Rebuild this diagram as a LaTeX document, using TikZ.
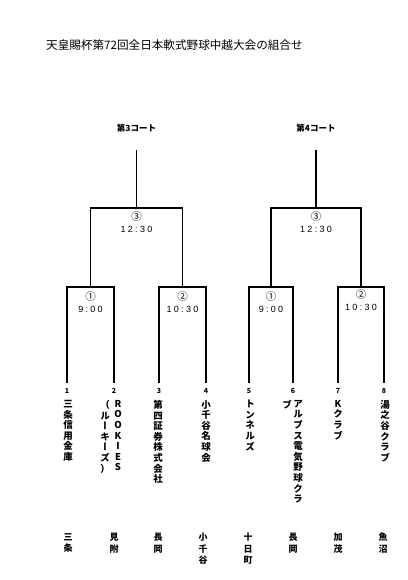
\documentclass[tikz,border=0pt]{standalone}
\usepackage{fontspec}
\setmainfont{Noto Sans CJK JP}
\newfontfamily\tate{Noto Sans CJK JP}[RawFeature=+vert]
\newfontfamily\yoko{Noto Sans CJK JP}
\newfontfamily\jikan{Liberation Sans}[LetterSpace=25]
\usetikzlibrary{calc}

\tikzset{
  line/.style={line width=1.3pt},
  court/.style={font=\bfseries\fontsize{8.5}{9}\selectfont, inner sep=0pt},
  time/.style={font=\fontsize{9}{12}\selectfont, align=center, inner sep=0pt},
  num/.style={font=\bfseries\fontsize{7}{8}\selectfont, inner sep=0pt},
  team/.style={font=\tate\bfseries\fontsize{9.5}{10.6}\selectfont, align=center, anchor=north, inner sep=0pt},
  place/.style={font=\bfseries\fontsize{9}{11.5}\selectfont, align=center, anchor=north, inner sep=0pt},
}
\newcommand{\kaishi}[2]{{\fontsize{10.5}{12}\selectfont #1}\\{\jikan #2}}

\begin{document}
\begin{tikzpicture}[x=1pt,y=-1pt]
\useasboundingbox (0,0) rectangle (407,580);
\node[anchor=west, inner sep=0pt, font=\fontsize{11.6}{13}\selectfont] (title) at (46,45) {天皇賜杯第72回全日本軟式野球中越大会の組合せ};

\coordinate (top) at (0,150);
\coordinate (lvl) at (0,208);

% first round
\foreach \i/\x in {1/67,2/114,3/159,4/206,5/249,6/293,7/338,8/384} {
  \coordinate (p\i) at (\x,383);
  \coordinate (q\i) at (\x,287);
  \node[num] (n\i) at ($(p\i)+(0,8)$) {\i};
}
\foreach \a/\b/\s in {1/2/1,3/4/2,5/6/3,7/8/4} {
  \draw[line] (p\a) -- (q\a) -- (q\b) -- (p\b);
  \coordinate (s\s) at ($(q\a)!0.5!(q\b)$);
}

% courts
\foreach \a/\b/\c in {1/2/3,3/4/4} {
  \coordinate (m\c) at ($(s\a)!0.5!(s\b)$);
  \draw[line] (s\a) -- (s\a |- lvl) -- (s\b |- lvl) -- (s\b);
  \draw[line] (m\c |- lvl) -- (m\c |- top);
  \node[court] (court\c) at ($(m\c |- top)+(0,-22)$) {第\c コート};
  \node[time] (final\c) at ($(m\c |- lvl)+(0,14)$) {\kaishi{③}{12:30}};
}

\node[time] (g1) at ($(s1)+(0,15)$) {\kaishi{①}{9:00}};
\node[time] (g2) at ($(s2)+(0,15)$) {\kaishi{②}{10:30}};
\node[time] (g3) at ($(s3)+(0,15)$) {\kaishi{①}{9:00}};
\node[time] (g4) at ($(s4)+(0,13)$) {\kaishi{②}{10:30}};

% teams
\node[team] (t1) at ($(p1)+(1,17)$) {三\\条\\信\\用\\金\\庫};
\node[team] (t2) at ($(p2)+(4,17)$) {R\\O\\O\\K\\I\\E\\S};
\node[team] (t2b) at ($(p2)+(-9,17)$) {{\yoko（}\\ル\\ー\\キ\\ー\\ズ\\{\yoko）}};
\node[team] (t3) at ($(p3)+(-1,17)$) {第\\四\\証\\券\\株\\式\\会\\社};
\node[team] (t4) at ($(p4)+(0,17)$) {小\\千\\谷\\名\\球\\会};
\node[team] (t5) at ($(p5)+(1,17)$) {ト\\ン\\ネ\\ル\\ズ};
\node[team] (t6) at ($(p6)+(5,17)$) {ア\\ル\\プ\\ス\\電\\気\\野\\球\\ク\\ラ};
\node[team] (t6b) at ($(p6)+(-6,17)$) {ブ};
\node[team] (t7) at ($(p7)+(0,17)$) {K\\ク\\ラ\\ブ};
\node[team] (t8) at ($(p8)+(1,17)$) {湯\\之\\谷\\ク\\ラ\\ブ};

% places
\node[place] (h1) at ($(p1)+(1,150)$) {三\\条};
\node[place] (h2) at ($(p2)+(0,150)$) {見\\附};
\node[place] (h3) at ($(p3)+(-1,150)$) {長\\岡};
\node[place] (h4) at ($(p4)+(-3,150)$) {小\\千\\谷};
\node[place] (h5) at ($(p5)+(-1,150)$) {十\\日\\町};
\node[place] (h6) at ($(p6)+(0,150)$) {長\\岡};
\node[place] (h7) at ($(p7)+(0,150)$) {加\\茂};
\node[place] (h8) at ($(p8)+(-1,150)$) {魚\\沼};
\end{tikzpicture}
\end{document}
